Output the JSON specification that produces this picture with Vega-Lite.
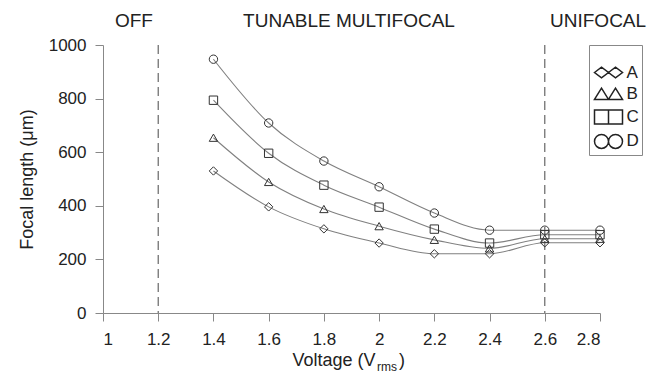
{
  "$schema": "https://vega.github.io/schema/vega-lite/v6.json",
  "width": 497,
  "height": 268,
  "autosize": "none",
  "padding": {"left": 103, "top": 45, "right": 50, "bottom": 61},
  "background": "white",
  "config": {
    "view": {"stroke": null},
    "font": "Liberation Sans",
    "axis": {
      "domainColor": "#888",
      "tickColor": "#888",
      "labelColor": "#222",
      "titleColor": "#222",
      "labelFont": "Liberation Sans",
      "titleFont": "Liberation Sans",
      "labelFontSize": 17,
      "titleFontSize": 18,
      "titleFontWeight": "normal",
      "tickSize": 8,
      "grid": false
    }
  },
  "datasets": {
    "curves": [
      {"series": "A", "v": 1.4, "f": 530}, {"series": "A", "v": 1.6, "f": 396}, {"series": "A", "v": 1.8, "f": 314}, {"series": "A", "v": 2.0, "f": 261}, {"series": "A", "v": 2.2, "f": 221}, {"series": "A", "v": 2.4, "f": 221}, {"series": "A", "v": 2.6, "f": 262}, {"series": "A", "v": 2.8, "f": 262},
      {"series": "B", "v": 1.4, "f": 654}, {"series": "B", "v": 1.6, "f": 489}, {"series": "B", "v": 1.8, "f": 388}, {"series": "B", "v": 2.0, "f": 324}, {"series": "B", "v": 2.2, "f": 273}, {"series": "B", "v": 2.4, "f": 241}, {"series": "B", "v": 2.6, "f": 277}, {"series": "B", "v": 2.8, "f": 277},
      {"series": "C", "v": 1.4, "f": 794}, {"series": "C", "v": 1.6, "f": 596}, {"series": "C", "v": 1.8, "f": 477}, {"series": "C", "v": 2.0, "f": 395}, {"series": "C", "v": 2.2, "f": 313}, {"series": "C", "v": 2.4, "f": 261}, {"series": "C", "v": 2.6, "f": 292}, {"series": "C", "v": 2.8, "f": 292},
      {"series": "D", "v": 1.4, "f": 947}, {"series": "D", "v": 1.6, "f": 709}, {"series": "D", "v": 1.8, "f": 567}, {"series": "D", "v": 2.0, "f": 471}, {"series": "D", "v": 2.2, "f": 373}, {"series": "D", "v": 2.4, "f": 309}, {"series": "D", "v": 2.6, "f": 309}, {"series": "D", "v": 2.8, "f": 309}
    ],
    "bounds": [{"v": 1.2}, {"v": 2.6}],
    "regions": [
      {"v": 1.112, "f": 1090, "t": "OFF"},
      {"v": 1.891, "f": 1090, "t": "TUNABLE MULTIFOCAL"},
      {"v": 2.793, "f": 1090, "t": "UNIFOCAL"}
    ],
    "xmain": [{"v": 1.987, "f": -198, "t": "Voltage (V"}],
    "xsub": [{"v": 1.992, "f": -216, "t": "rms"}],
    "xclose": [{"v": 2.072, "f": -198, "t": ")"}]
  },
  "layer": [
    {
      "data": {"name": "bounds"},
      "mark": {"type": "rule", "strokeDash": [9, 5], "color": "#666", "strokeWidth": 1.2},
      "encoding": {
        "x": {"field": "v", "type": "quantitative", "scale": {"domain": [1, 2.8]},
          "axis": {"values": [1, 1.2, 1.4, 1.6, 1.8, 2, 2.2, 2.4, 2.6, 2.8], "format": ".1~f", "labelPadding": 10, "title": null}}
      }
    },
    {
      "data": {"name": "curves"},
      "mark": {"type": "line", "interpolate": "monotone", "color": "#808080", "strokeWidth": 1.1},
      "encoding": {
        "x": {"field": "v", "type": "quantitative", "scale": {"domain": [1, 2.8]},
          "axis": {"values": [1, 1.2, 1.4, 1.6, 1.8, 2, 2.2, 2.4, 2.6, 2.8], "format": ".1~f", "labelPadding": 10, "title": null}},
        "y": {"field": "f", "type": "quantitative", "scale": {"domain": [0, 1000]},
          "axis": {"values": [0, 200, 400, 600, 800, 1000], "format": "d", "labelPadding": 9, "titlePadding": 12, "title": "Focal length (μm)"}},
        "detail": {"field": "series"}
      }
    },
    {
      "data": {"name": "curves"},
      "mark": {"type": "point", "filled": false, "stroke": "#333", "strokeWidth": 1, "size": 70, "opacity": 1},
      "encoding": {
        "x": {"field": "v", "type": "quantitative", "scale": {"domain": [1, 2.8]}},
        "y": {"field": "f", "type": "quantitative", "scale": {"domain": [0, 1000]}},
        "shape": {"field": "series", "type": "nominal",
          "scale": {"domain": ["A", "B", "C", "D"], "range": ["diamond", "triangle-up", "square", "circle"]},
          "legend": null}
      }
    },
    {
      "data": {"name": "curves"},
      "mark": {"type": "point", "filled": false, "stroke": "#222", "strokeWidth": 1, "size": 196, "opacity": 0},
      "encoding": {
        "x": {"field": "v", "type": "quantitative", "scale": {"domain": [1, 2.8]}},
        "y": {"field": "f", "type": "quantitative", "scale": {"domain": [0, 1000]}},
        "shape": {"field": "series", "type": "nominal",
          "scale": {"domain": ["A", "B", "C", "D"], "range": [
            "M-2,0L-1,-0.75L0,0L-1,0.75Z M0,0L1,-0.75L2,0L1,0.75Z",
            "M-2,0.8L-1,-0.8L0,0.8Z M0,0.8L1,-0.8L2,0.8Z",
            "M-2,-1L0,-1L0,1L-2,1Z M0,-1L2,-1L2,1L0,1Z",
            "M-2,0A1,1 0 1,0 0,0A1,1 0 1,0 -2,0Z M0,0A1,1 0 1,0 2,0A1,1 0 1,0 0,0Z"
          ]},
          "legend": {
            "title": ".", "titleColor": "white", "titleFontSize": 8, "titlePadding": 8,
            "orient": "none", "legendX": 486, "legendY": 0,
            "strokeColor": "#888", "padding": 3,
            "symbolSize": 196,
            "labelFontSize": 17, "labelColor": "#222", "labelFont": "Liberation Sans",
            "labelExpr": "datum.label + '\u00a0\u00a0'",
            "rowPadding": 3.3, "labelOffset": 9.5, "symbolOffset": 8,
            "encode": {"symbols": {"update": {"opacity": {"value": 1}, "stroke": {"value": "#222"}, "strokeWidth": {"value": 1}, "fill": {"value": "transparent"}}}}
          }}
      }
    },
    {
      "data": {"name": "regions"},
      "mark": {"type": "text", "fontSize": 19, "color": "#222", "baseline": "middle", "align": "center"},
      "encoding": {
        "x": {"field": "v", "type": "quantitative", "scale": {"domain": [1, 2.8]}},
        "y": {"field": "f", "type": "quantitative", "scale": {"domain": [0, 1000]}},
        "text": {"field": "t"}
      }
    },
    {
      "data": {"name": "xmain"},
      "mark": {"type": "text", "fontSize": 18, "color": "#222", "baseline": "alphabetic", "align": "right"},
      "encoding": {
        "x": {"field": "v", "type": "quantitative", "scale": {"domain": [1, 2.8]}},
        "y": {"field": "f", "type": "quantitative", "scale": {"domain": [0, 1000]}},
        "text": {"field": "t"}
      }
    },
    {
      "data": {"name": "xsub"},
      "mark": {"type": "text", "fontSize": 12, "color": "#222", "baseline": "alphabetic", "align": "left"},
      "encoding": {
        "x": {"field": "v", "type": "quantitative", "scale": {"domain": [1, 2.8]}},
        "y": {"field": "f", "type": "quantitative", "scale": {"domain": [0, 1000]}},
        "text": {"field": "t"}
      }
    },
    {
      "data": {"name": "xclose"},
      "mark": {"type": "text", "fontSize": 18, "color": "#222", "baseline": "alphabetic", "align": "left"},
      "encoding": {
        "x": {"field": "v", "type": "quantitative", "scale": {"domain": [1, 2.8]}},
        "y": {"field": "f", "type": "quantitative", "scale": {"domain": [0, 1000]}},
        "text": {"field": "t"}
      }
    }
  ],
  "resolve": {"scale": {"shape": "independent"}, "legend": {"shape": "independent"}}
}
